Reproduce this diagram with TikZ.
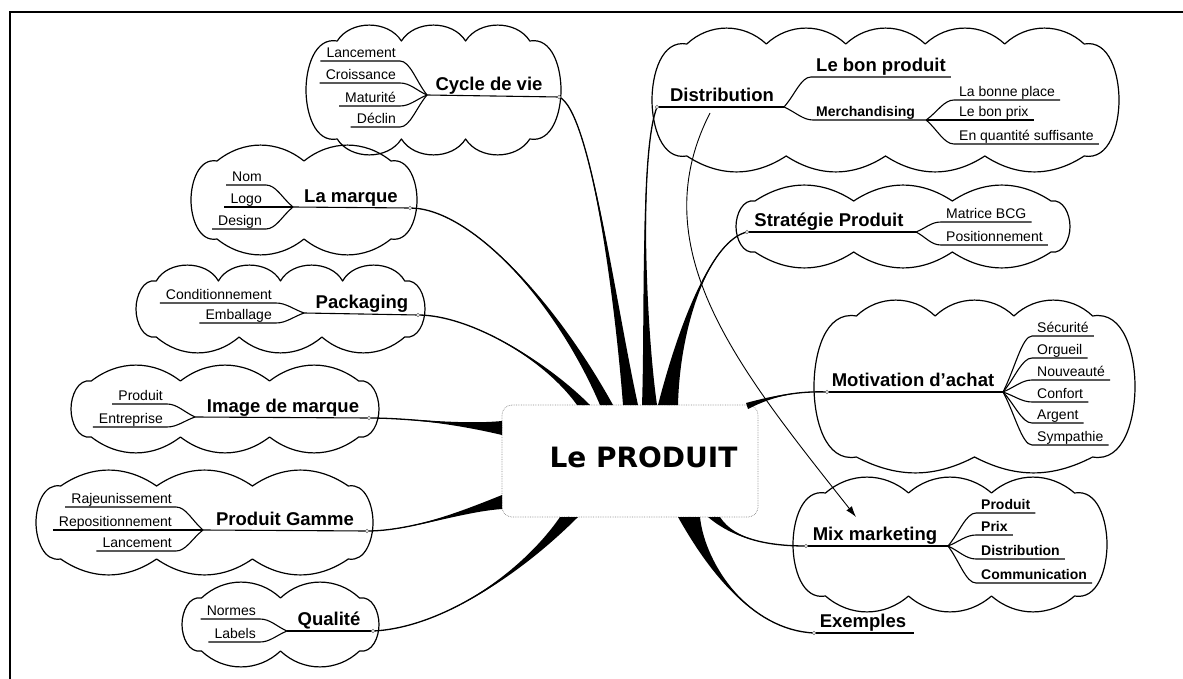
\documentclass[tikz,border=0pt]{standalone}
\usepackage{fontspec}
\setmainfont{Liberation Sans}
\newfontfamily\ctrfont{DejaVu Sans}
\usetikzlibrary{calc,arrows.meta}
% left-side child: underline then curve to the fork
\newcommand\lfork[2]{%
  \coordinate (tmpA) at ([xshift=-6pt]#1.south west);
  \coordinate (tmpB) at ([xshift=4pt]#1.south east);
  \draw[ul] (tmpA) -- (tmpB) .. controls ($(tmpB)+(10,0)$) and ($(#2)!0.4!(tmpB)$) .. (#2);}
% right-side child: curve from the fork then underline
\newcommand\rfork[2]{%
  \coordinate (tmpA) at ([xshift=-5pt]#2.south west);
  \coordinate (tmpB) at ([xshift=5pt]#2.south east);
  \draw[ul] (#1) .. controls ($(#1)!0.4!(tmpA)$) and ($(tmpA)+(-10,0)$) .. (tmpA) -- (tmpB);}
% tapered branch: #1,#2 thick end, #3,#4 controls, #5 thin end
\newcommand\taper[5]{%
  \fill (#1) .. controls (#3) and (#4) .. (#5) .. controls (#4) and (#3) .. (#2) -- cycle;
  \draw[line width=1.3pt] ($(#1)!0.5!(#2)$) .. controls (#3) and (#4) .. (#5);}
% cloud outline: #1 cx, #2 cy, #3 half width, #4 half height, #5 top puffs, #6 bottom puffs
\newcommand\cloudy[6]{%
  \pgfmathsetmacro\ce{0.52*#4}%
  \pgfmathsetmacro\xl{#1-#3+\ce}%
  \pgfmathsetmacro\xr{#1+#3-\ce}%
  \pgfmathsetmacro\yt{#2-#4+11}%
  \pgfmathsetmacro\yb{#2+#4-11}%
  \pgfmathsetmacro\dt{(\xr-\xl)/#5}%
  \pgfmathsetmacro\db{(\xr-\xl)/#6}%
  \pgfmathsetmacro\bt{asin(min(0.95,16/(0.294*\dt)))}%
  \pgfmathsetmacro\bb{asin(min(0.95,16/(0.294*\db)))}%
  \draw[cloudline] (\xl,\yt) \foreach \i in {1,...,#5} { to[bend left=\bt] ({\xl+\i*\dt},\yt) }
    to[out=10,in=90] (#1+#3,#2) to[out=-90,in=-10] (\xr,\yb)
    \foreach \i in {1,...,#6} { to[bend left=\bb] ({\xr-\i*\db},\yb) }
    to[out=190,in=-90] (#1-#3,#2) to[out=90,in=170] (\xl,\yt) -- cycle;}
\begin{document}
\begin{tikzpicture}[x=1pt,y=-1pt,
 cloudline/.style={line width=1.2pt, line join=round},
 topic/.style={font=\fontsize{18.5}{20}\selectfont\bfseries, inner xsep=0pt, inner ysep=2pt, text depth=3pt, anchor=south},
 sub/.style={font=\fontsize{14}{16}\selectfont, inner xsep=0pt, inner ysep=1pt, text depth=2pt},
 subb/.style={sub, font=\fontsize{14}{16}\selectfont\bfseries},
 ul/.style={line width=1.1pt},
 dot/.style={circle, draw=black!60, fill=white, line width=0.4pt, inner sep=0pt, minimum size=3.5pt},
]
\useasboundingbox (0,0) rectangle (1183,679);
\fill[white] (0,0) rectangle (1183,679);
\draw[line width=1.8pt] (10,679) -- (10,12) -- (1183,12);

% ---------- clouds ----------
\cloudy{433.5}{90}{127.5}{60}{3}{3}      % Cycle de vie
\cloudy{304}{200}{113}{50}{2}{2}         % La marque
\cloudy{280.5}{309}{144.5}{39}{4}{3}     % Packaging
\cloudy{225}{409}{154}{39}{3}{3}         % Image de marque
\cloudy{204.5}{522.5}{168.5}{47.5}{3}{3} % Produit Gamme
\cloudy{280.5}{624.5}{98.5}{37.5}{2}{2}  % Qualite
\cloudy{885.5}{100}{233.5}{67}{5}{4}     % Distribution
\cloudy{903}{226.5}{167}{36.5}{3}{3}     % Strategie
\cloudy{974.5}{386.5}{160.5}{81.5}{3}{2} % Motivation
\cloudy{950}{544.5}{157}{62.5}{3}{3}     % Mix

% ---------- central box ----------
\node[draw=black!45, densely dotted, line width=0.7pt, fill=white, rounded corners=10pt,
      minimum width=256, minimum height=112, inner sep=0pt] (ctr) at (630,461) {};
\node[font=\ctrfont\bfseries\fontsize{28}{30}\selectfont, inner sep=0pt] (ctrT) at (643.5,457) {Le PRODUIT};

% ---------- Cycle de vie ----------
\node[topic] (cv) at (489,96) {Cycle de vie};
\coordinate (cvF) at (427,95); \coordinate (cvE) at (559,97);
\draw[ul] (cvF) -- (cvE);
\node[sub, anchor=south east] (cv1) at (396,61) {Lancement};
\node[sub, anchor=south east] (cv2) at (396,83) {Croissance};
\node[sub, anchor=south east] (cv3) at (396,106) {Maturité};
\node[sub, anchor=south east] (cv4) at (396,127) {Déclin};
\lfork{cv1}{cvF}\lfork{cv2}{cvF}\lfork{cv3}{cvF}\lfork{cv4}{cvF}

% ---------- La marque ----------
\node[topic] (lm) at (351,208) {La marque};
\coordinate (lmF) at (293,207); \coordinate (lmE) at (410,208);
\draw[ul] (lmF) -- (lmE);
\node[sub, anchor=south east] (lm1) at (262,185) {Nom};
\node[sub, anchor=south east] (lm2) at (262,207) {Logo};
\node[sub, anchor=south east] (lm3) at (262,229) {Design};
\lfork{lm1}{lmF}\lfork{lm2}{lmF}\lfork{lm3}{lmF}

% ---------- Packaging ----------
\node[topic] (pk) at (362,314) {Packaging};
\coordinate (pkF) at (304,313); \coordinate (pkE) at (418,315);
\draw[ul] (pkF) -- (pkE);
\node[sub, anchor=south east] (pk1) at (272,303) {Conditionnement};
\node[sub, anchor=south east] (pk2) at (272,323) {Emballage};
\lfork{pk1}{pkF}\lfork{pk2}{pkF}

% ---------- Image de marque ----------
\node[topic] (im) at (283,418) {Image de marque};
\coordinate (imF) at (195,417); \coordinate (imE) at (369,418);
\draw[ul] (imF) -- (imE);
\node[sub, anchor=south east] (im1) at (163,404) {Produit};
\node[sub, anchor=south east] (im2) at (163,427) {Entreprise};
\lfork{im1}{imF}\lfork{im2}{imF}

% ---------- Produit Gamme ----------
\node[topic] (pg) at (285,531) {Produit Gamme};
\coordinate (pgF) at (203,530); \coordinate (pgE) at (367,531);
\draw[ul] (pgF) -- (pgE);
\node[sub, anchor=south east] (pg1) at (172,507) {Rajeunissement};
\node[sub, anchor=south east] (pg2) at (172,530) {Repositionnement};
\node[sub, anchor=south east] (pg3) at (172,551) {Lancement};
\lfork{pg1}{pgF}\lfork{pg2}{pgF}\lfork{pg3}{pgF}

% ---------- Qualité ----------
\node[topic] (ql) at (329,631) {Qualité};
\coordinate (qlF) at (287,631); \coordinate (qlE) at (373,631);
\draw[ul] (qlF) -- (qlE);
\node[sub, anchor=south east] (ql1) at (256,619) {Normes};
\node[sub, anchor=south east] (ql2) at (256,642) {Labels};
\lfork{ql1}{qlF}\lfork{ql2}{qlF}

% ---------- Distribution ----------
\node[topic] (ds) at (722,107) {Distribution};
\coordinate (dsS) at (657,107); \coordinate (dsF) at (784,107);
\draw[ul] (dsS) -- (dsF);
\node[topic, anchor=south west] (ds1) at (816,77) {Le bon produit};
\node[subb, anchor=south west] (ds2) at (816,120) {Merchandising};
\rfork{dsF}{ds1}
\coordinate (dsM) at ([xshift=-3pt]ds2.south west);
\coordinate (dsF2) at ([xshift=11pt]ds2.south east);
\draw[ul] (dsF) .. controls ($(dsF)!0.4!(dsM)$) and ($(dsM)+(-10,0)$) .. (dsM) -- (dsF2);
\node[sub, anchor=south west] (ds3) at (959,100) {La bonne place};
\node[sub, anchor=south west] (ds4) at (959,120) {Le bon prix};
\node[sub, anchor=south west] (ds5) at (959,144) {En quantité suffisante};
\rfork{dsF2}{ds3}\rfork{dsF2}{ds4}\rfork{dsF2}{ds5}

% ---------- Stratégie Produit ----------
\node[topic] (sp) at (829,232) {Stratégie Produit};
\coordinate (spS) at (747,232); \coordinate (spF) at (916,232);
\draw[ul] (spS) -- (spF);
\node[sub, anchor=south west] (sp1) at (946,222) {Matrice BCG};
\node[sub, anchor=south west] (sp2) at (946,245) {Positionnement};
\rfork{spF}{sp1}\rfork{spF}{sp2}

% ---------- Motivation d'achat ----------
\node[topic] (mo) at (913,392) {Motivation d'achat};
\coordinate (moS) at (827,392); \coordinate (moF) at (1003,392);
\draw[ul] (moS) -- (moF);
\node[sub, anchor=south west] (mo1) at (1037,336) {Sécurité};
\node[sub, anchor=south west] (mo2) at (1037,358) {Orgueil};
\node[sub, anchor=south west] (mo3) at (1037,380) {Nouveauté};
\node[sub, anchor=south west] (mo4) at (1037,402) {Confort};
\node[sub, anchor=south west] (mo5) at (1037,423) {Argent};
\node[sub, anchor=south west] (mo6) at (1037,445) {Sympathie};
\rfork{moF}{mo1}\rfork{moF}{mo2}\rfork{moF}{mo3}\rfork{moF}{mo4}\rfork{moF}{mo5}\rfork{moF}{mo6}

% ---------- Mix marketing ----------
\node[topic] (mx) at (875,546) {Mix marketing};
\coordinate (mxS) at (806,546); \coordinate (mxF) at (948,546);
\draw[ul] (mxS) -- (mxF);
\node[subb, anchor=south west] (mx1) at (981,513) {Produit};
\node[subb, anchor=south west] (mx2) at (981,535) {Prix};
\node[subb, anchor=south west] (mx3) at (981,559) {Distribution};
\node[subb, anchor=south west] (mx4) at (981,583) {Communication};
\rfork{mxF}{mx1}\rfork{mxF}{mx2}\rfork{mxF}{mx3}\rfork{mxF}{mx4}

% ---------- Exemples ----------
\node[topic] (ex) at (863,633) {Exemples};
\coordinate (exS) at (814,633); \coordinate (exE) at (914,633);
\draw[ul] (exS) -- (exE);

% ---------- attach points on the central box ----------
\coordinate (tA1) at (577,405); \coordinate (tA2) at (590,405);
\coordinate (tB1) at (600,405); \coordinate (tB2) at (613,405);
\coordinate (tC1) at (623,405); \coordinate (tC2) at (638,405);
\coordinate (tD1) at (642,405); \coordinate (tD2) at (657,405);
\coordinate (tE1) at (658,405); \coordinate (tE2) at (678,405);
\coordinate (lA1) at (502,421); \coordinate (lA2) at (502,435);
\coordinate (lB1) at (502,495); \coordinate (lB2) at (502,509);
\coordinate (bA1) at (560,517); \coordinate (bA2) at (578,517);
\coordinate (bB1) at (678,517); \coordinate (bB2) at (700,517);
\coordinate (bC1) at (708,517); \coordinate (bC2) at (720,517);
\coordinate (rA1) at (746,403); \coordinate (rA2) at (748,409);

% ---------- tapered branches ----------
\taper{tA1}{tA2}{545,360}{470,315}{pkE}
\taper{tB1}{tB2}{555,300}{470,208}{lmE}
\taper{tC1}{tC2}{615,300}{590,110}{cvE}
\taper{tD1}{tD2}{645,320}{640,150}{dsS}
\taper{tE1}{tE2}{680,320}{712,240}{spS}
\taper{lA1}{lA2}{460,425}{410,418}{imE}
\taper{lB1}{lB2}{460,512}{410,531}{pgE}
\taper{bA1}{bA2}{520,575}{440,628}{qlE}
\taper{bB1}{bB2}{705,565}{750,630}{exS}
\taper{bC1}{bC2}{735,540}{770,546}{mxS}
\taper{rA1}{rA2}{775,395}{800,391}{moS}

% end markers
\foreach \p in {cvE,lmE,pkE,imE,pgE,qlE,dsS,spS,moS,mxS,exS} \node[dot] at (\p) {};

% ---------- thin arrow Distribution -> Mix marketing ----------
\coordinate (dsA) at (710,113); \coordinate (mxA) at (856,517);
\draw[line width=0.9pt, -{Latex[length=11pt,width=7pt]}] (dsA) .. controls (640,250) and (740,370) .. (mxA);
\end{tikzpicture}
\end{document}
